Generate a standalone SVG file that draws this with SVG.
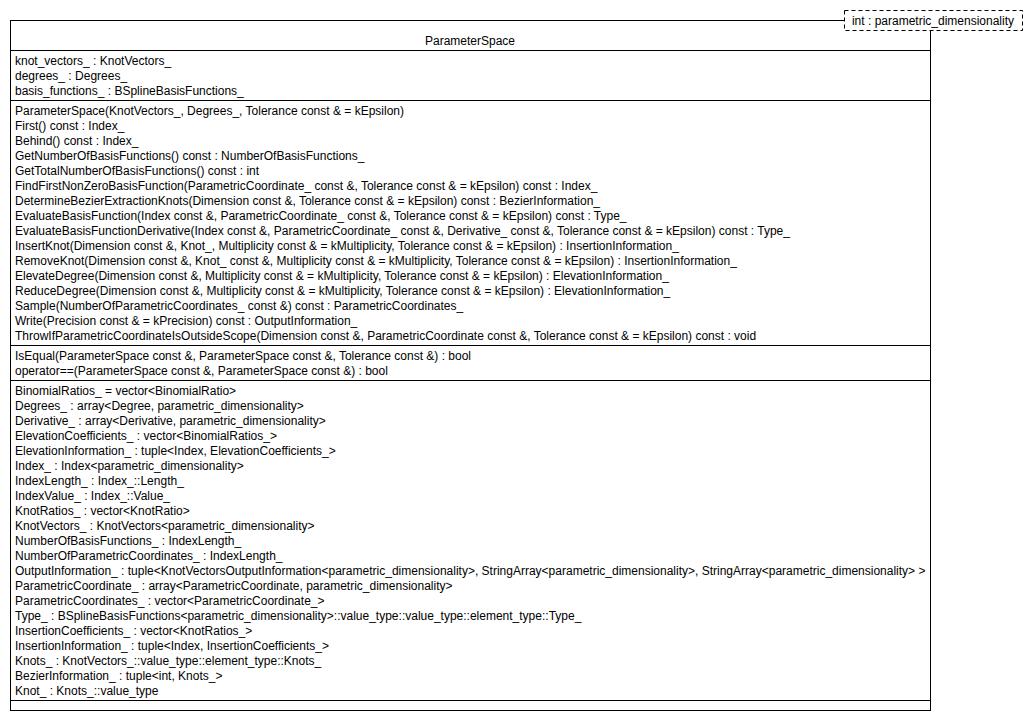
<svg xmlns="http://www.w3.org/2000/svg" width="1030" height="720" viewBox="0 0 1030 720">
<style>
.t{font-family:"Liberation Sans",Arial,Helvetica,sans-serif;font-size:12px;fill:#000}
.c{text-anchor:middle}
.ln{stroke:#000;stroke-width:1;fill:none}
</style>
<rect width="1030" height="720" fill="#fff"/>
<g id="ParameterSpace">
<rect x="10.5" y="20.5" width="920" height="690" fill="#fff" stroke="#000"/>
<path class="ln" d="M10 50.5H930M10 100.5H930M10 345.5H930M10 380.5H930M10 700.5H930"/>
<text class="t c" x="470" y="45">ParameterSpace</text>
<g class="t" transform="translate(0,0.5)">
<text x="15" y="64">knot_vectors_ : KnotVectors_</text>
<text x="15" y="79">degrees_ : Degrees_</text>
<text x="15" y="94">basis_functions_ : BSplineBasisFunctions_</text>
<text x="15" y="114">ParameterSpace(KnotVectors_, Degrees_, Tolerance const &amp; = kEpsilon)</text>
<text x="15" y="129">First() const : Index_</text>
<text x="15" y="144">Behind() const : Index_</text>
<text x="15" y="159">GetNumberOfBasisFunctions() const : NumberOfBasisFunctions_</text>
<text x="15" y="174">GetTotalNumberOfBasisFunctions() const : int</text>
<text x="15" y="189">FindFirstNonZeroBasisFunction(ParametricCoordinate_ const &amp;, Tolerance const &amp; = kEpsilon) const : Index_</text>
<text x="15" y="204">DetermineBezierExtractionKnots(Dimension const &amp;, Tolerance const &amp; = kEpsilon) const : BezierInformation_</text>
<text x="15" y="219">EvaluateBasisFunction(Index const &amp;, ParametricCoordinate_ const &amp;, Tolerance const &amp; = kEpsilon) const : Type_</text>
<text x="15" y="234">EvaluateBasisFunctionDerivative(Index const &amp;, ParametricCoordinate_ const &amp;, Derivative_ const &amp;, Tolerance const &amp; = kEpsilon) const : Type_</text>
<text x="15" y="249">InsertKnot(Dimension const &amp;, Knot_, Multiplicity const &amp; = kMultiplicity, Tolerance const &amp; = kEpsilon) : InsertionInformation_</text>
<text x="15" y="264">RemoveKnot(Dimension const &amp;, Knot_ const &amp;, Multiplicity const &amp; = kMultiplicity, Tolerance const &amp; = kEpsilon) : InsertionInformation_</text>
<text x="15" y="279">ElevateDegree(Dimension const &amp;, Multiplicity const &amp; = kMultiplicity, Tolerance const &amp; = kEpsilon) : ElevationInformation_</text>
<text x="15" y="294">ReduceDegree(Dimension const &amp;, Multiplicity const &amp; = kMultiplicity, Tolerance const &amp; = kEpsilon) : ElevationInformation_</text>
<text x="15" y="309">Sample(NumberOfParametricCoordinates_ const &amp;) const : ParametricCoordinates_</text>
<text x="15" y="324">Write(Precision const &amp; = kPrecision) const : OutputInformation_</text>
<text x="15" y="339">ThrowIfParametricCoordinateIsOutsideScope(Dimension const &amp;, ParametricCoordinate const &amp;, Tolerance const &amp; = kEpsilon) const : void</text>
<text x="15" y="359">IsEqual(ParameterSpace const &amp;, ParameterSpace const &amp;, Tolerance const &amp;) : bool</text>
<text x="15" y="374">operator==(ParameterSpace const &amp;, ParameterSpace const &amp;) : bool</text>
<text x="15" y="394">BinomialRatios_ = vector&lt;BinomialRatio&gt;</text>
<text x="15" y="409">Degrees_ : array&lt;Degree, parametric_dimensionality&gt;</text>
<text x="15" y="424">Derivative_ : array&lt;Derivative, parametric_dimensionality&gt;</text>
<text x="15" y="439">ElevationCoefficients_ : vector&lt;BinomialRatios_&gt;</text>
<text x="15" y="454">ElevationInformation_ : tuple&lt;Index, ElevationCoefficients_&gt;</text>
<text x="15" y="469">Index_ : Index&lt;parametric_dimensionality&gt;</text>
<text x="15" y="484">IndexLength_ : Index_::Length_</text>
<text x="15" y="499">IndexValue_ : Index_::Value_</text>
<text x="15" y="514">KnotRatios_ : vector&lt;KnotRatio&gt;</text>
<text x="15" y="529">KnotVectors_ : KnotVectors&lt;parametric_dimensionality&gt;</text>
<text x="15" y="544">NumberOfBasisFunctions_ : IndexLength_</text>
<text x="15" y="559">NumberOfParametricCoordinates_ : IndexLength_</text>
<text x="15" y="574">OutputInformation_ : tuple&lt;KnotVectorsOutputInformation&lt;parametric_dimensionality&gt;, StringArray&lt;parametric_dimensionality&gt;, StringArray&lt;parametric_dimensionality&gt; &gt;</text>
<text x="15" y="589">ParametricCoordinate_ : array&lt;ParametricCoordinate, parametric_dimensionality&gt;</text>
<text x="15" y="604">ParametricCoordinates_ : vector&lt;ParametricCoordinate_&gt;</text>
<text x="15" y="619">Type_ : BSplineBasisFunctions&lt;parametric_dimensionality&gt;::value_type::value_type::element_type::Type_</text>
<text x="15" y="634">InsertionCoefficients_ : vector&lt;KnotRatios_&gt;</text>
<text x="15" y="649">InsertionInformation_ : tuple&lt;Index, InsertionCoefficients_&gt;</text>
<text x="15" y="664">Knots_ : KnotVectors_::value_type::element_type::Knots_</text>
<text x="15" y="679">BezierInformation_ : tuple&lt;int, Knots_&gt;</text>
<text x="15" y="694">Knot_ : Knots_::value_type</text>
</g>
</g>
<g id="template-parameter">
<rect x="844.5" y="10.5" width="178" height="20" fill="#fff" stroke="#000" stroke-dasharray="4,3"/>
<text class="t c" x="933" y="24.5">int : parametric_dimensionality</text>
</g>
<g id="connectors"/>
</svg>
